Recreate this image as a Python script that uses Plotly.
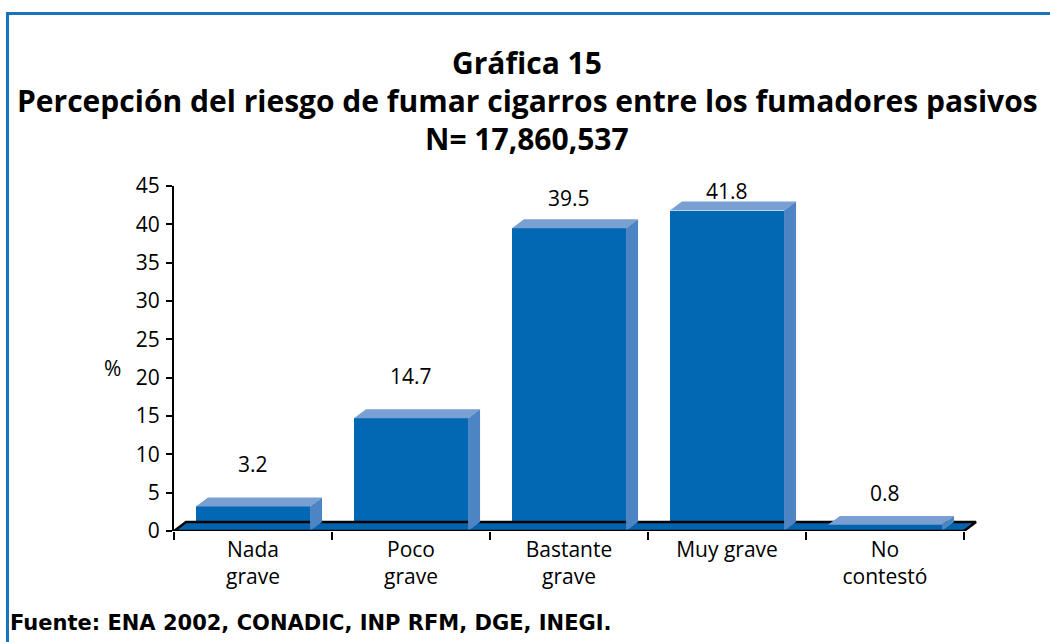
import plotly.graph_objects as go

# data
categories = ["Nada<br>grave", "Poco<br>grave", "Bastante<br>grave", "Muy grave", "No<br>contestó"]
values = [3.2, 14.7, 39.5, 41.8, 0.8]
value_labels = ["3.2", "14.7", "39.5", "41.8", "0.8"]
y_ticks = [0, 5, 10, 15, 20, 25, 30, 35, 40, 45]

W, H = 1050, 642
FRONT = "#0268b3"
TOP = "#7a9fd3"
SIDE = "#4c84c4"
FLOOR = "#0463ad"

bar_w = 0.722      # width of the front face, in category units
dx, dy = 0.076, 1.17   # 3D depth offset (x units, y units)
label_shift = [42, 42, 30, 20, 32]

pos = list(range(len(values)))
n = len(values)

fig = go.Figure()

# floor of the 3D box
fig.add_trace(go.Scatter(
    x=[-0.5, n - 0.5, n - 0.5 + dx, -0.5 + dx, -0.5],
    y=[0, 0, dy, dy, 0],
    mode="lines", fill="toself", fillcolor=FLOOR,
    line=dict(width=0), hoverinfo="skip", showlegend=False
))
fig.add_trace(go.Scatter(
    x=[-0.5, -0.5 + dx, n - 0.5 + dx, n - 0.5],
    y=[0, dy, dy, 0],
    mode="lines", line=dict(color="black", width=2.5),
    hoverinfo="skip", showlegend=False
))

# front faces
fig.add_trace(go.Bar(
    x=pos, y=values, width=bar_w,
    marker=dict(color=FRONT, line=dict(width=0)),
    hoverinfo="skip", showlegend=False
))

# top and side faces
tx, ty, sx, sy = [], [], [], []
for p, v in zip(pos, values):
    l, r = p - bar_w / 2, p + bar_w / 2
    tx += [l, r, r + dx, l + dx, l, None]
    ty += [v, v, v + dy, v + dy, v, None]
    sx += [r, r + dx, r + dx, r, r, None]
    sy += [0, dy, v + dy, v, 0, None]
fig.add_trace(go.Scatter(x=tx, y=ty, mode="lines", fill="toself", fillcolor=TOP,
                         line=dict(width=0), hoverinfo="skip", showlegend=False))
fig.add_trace(go.Scatter(x=sx, y=sy, mode="lines", fill="toself", fillcolor=SIDE,
                         line=dict(width=0), hoverinfo="skip", showlegend=False))

# front edge of the floor = x axis line
fig.add_trace(go.Scatter(
    x=[-0.5, n - 0.5], y=[0, 0],
    mode="lines", line=dict(color="black", width=2.5),
    hoverinfo="skip", showlegend=False
))

# boundary ticks on an overlaid axis
fig.add_trace(go.Scatter(x=[-0.5], y=[0], xaxis="x2", mode="markers",
                         marker=dict(opacity=0), hoverinfo="skip", showlegend=False))

tick_font = dict(family="Open Sans", size=21, color="black")

for p, v, t, s in zip(pos, values, value_labels, label_shift):
    fig.add_annotation(x=p, y=v, text=t, showarrow=False, yshift=s,
                       font=tick_font, xref="x", yref="y")

titles = ["Gráfica 15",
          "Percepción del riesgo de fumar cigarros entre los fumadores pasivos",
          "N= 17,860,537"]
for i, t in enumerate(titles):
    fig.add_annotation(x=527 / W, y=1 - (62 + 38 * i) / H, xref="paper", yref="paper",
                       text="<b>%s</b>" % t, showarrow=False, yanchor="middle",
                       font=dict(family="Open Sans", size=30, color="black"))

fig.add_annotation(x=102 / W, y=1 - 368 / H, xref="paper", yref="paper", text="%",
                   showarrow=False, font=tick_font)
fig.add_annotation(x=8 / W, y=1 - 623 / H, xref="paper", yref="paper", xanchor="left",
                   yanchor="middle",
                   text="<b>Fuente: ENA 2002, CONADIC, INP RFM, DGE, INEGI.</b>",
                   showarrow=False,
                   font=dict(family="DejaVu Sans", size=21, color="black"))

# blue frame
fig.add_shape(type="rect", xref="paper", yref="paper",
              x0=7.5 / W, x1=1.1, y0=-0.1, y1=1 - 13.5 / H,
              line=dict(color="#1874bc", width=3))

x0_px, x1_px = 174, 174 + (n + 0.1) * 158
xdom = [x0_px / W, x1_px / W]
ydom = [(H - 531) / H, (H - 186) / H]

fig.update_layout(
    width=W, height=H,
    margin=dict(l=0, r=0, t=0, b=0),
    paper_bgcolor="white", plot_bgcolor="white",
    bargap=0,
    xaxis=dict(domain=xdom, range=[-0.5, n - 0.5 + 0.1], tickvals=pos, ticktext=categories,
               ticks="", showline=False, showgrid=False, zeroline=False,
               tickfont=tick_font, ticklabelstandoff=4, automargin=False),
    xaxis2=dict(domain=xdom, range=[-0.5, n - 0.5 + 0.1], overlaying="x", anchor="y",
                tickvals=[p - 0.5 for p in pos] + [n - 0.5], showticklabels=False,
                ticks="outside", ticklen=8, tickwidth=2, tickcolor="black",
                showline=False, showgrid=False, zeroline=False, side="bottom",
                automargin=False),
    yaxis=dict(domain=ydom, range=[0, 45], tickvals=y_ticks, ticks="outside",
               ticklen=6, tickwidth=2, tickcolor="black", showline=True,
               linecolor="black", linewidth=2, showgrid=False, zeroline=False,
               tickfont=tick_font, ticklabelstandoff=2, automargin=False),
)

# the page has a default body margin; remove it so the figure sits at the origin
fig.write_html("out.html", config={"displayModeBar": False},
               post_script="document.body.style.margin='0px';")
